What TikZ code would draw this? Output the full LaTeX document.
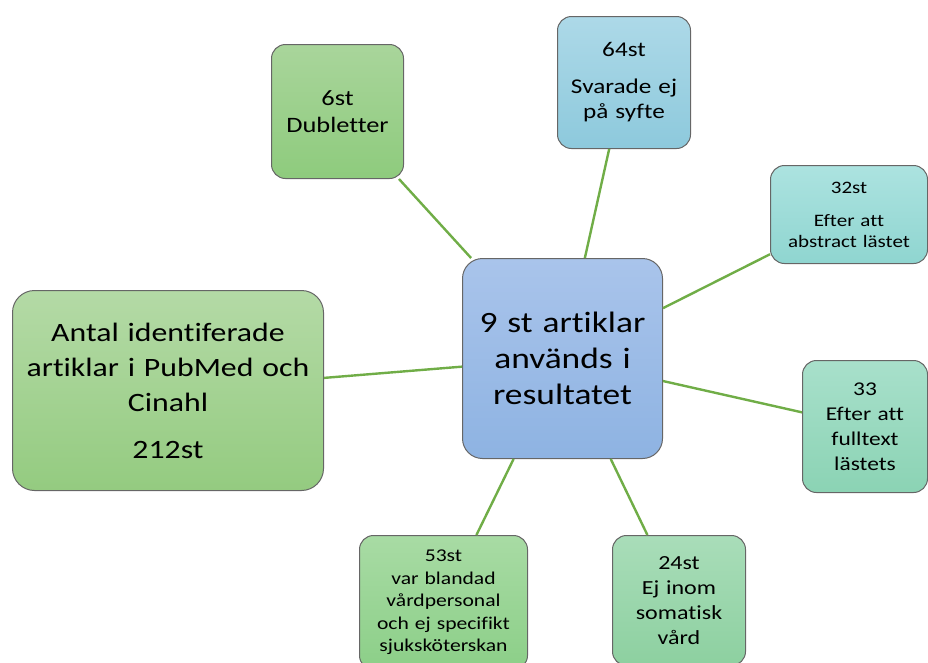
\documentclass[tikz,border=0pt]{standalone}
\usepackage{fontspec}
\setmainfont{Carlito}[FakeStretch=1.2,Ligatures=CommonOff]
\definecolor{linkgreen}{HTML}{70AD47}
\definecolor{boxline}{HTML}{666666}
\begin{document}
\begin{tikzpicture}[x=1pt,y=-1pt,line cap=butt,line join=miter]
            \tikzset{box/.style={draw=boxline,line width=1pt,rounded corners=14pt,
                anchor=north west,align=center,inner sep=0pt,shading=axis},
                link/.style={draw=linkgreen,line width=2.4pt}}
            \useasboundingbox (0,0) rectangle (928,662);
            % mittnoden
            \node[box,rounded corners=20pt,top color={rgb,255:red,169;green,196;blue,235},
                bottom color={rgb,255:red,142;green,179;blue,226},
                text width=200pt,minimum height=200pt,
                font=\fontsize{29.5}{36}\selectfont] (cent) at (462,258)
                {9 st artiklar\\används i\\resultatet};
            \node[box,rounded corners=22pt,top color={rgb,255:red,180;green,218;blue,166},
                bottom color={rgb,255:red,148;green,203;blue,128},
                text width=311pt,minimum height=200pt,
                font=\fontsize{26.5}{35}\selectfont] (ident) at (12,290)
                {Antal identiferade\\artiklar i PubMed och\\Cinahl\\[12pt]212st};
            \node[box,top color={rgb,255:red,169;green,213;blue,155},
                bottom color={rgb,255:red,142;green,203;blue,125},
                text width=132pt,minimum height=134pt,
                font=\fontsize{22}{27}\selectfont] (dubl) at (271,44)
                {6st\\Dubletter};
            \node[box,top color={rgb,255:red,173;green,217;blue,232},
                bottom color={rgb,255:red,141;green,201;blue,220},
                text width=133pt,minimum height=132pt,
                font=\fontsize{21}{25}\selectfont] (syfte) at (557,16)
                {64st\\[12pt]Svarade ej\\på syfte};
            \node[box,top color={rgb,255:red,172;green,227;blue,224},
                bottom color={rgb,255:red,143;green,213;blue,208},
                text width=157pt,minimum height=98pt,
                font=\fontsize{17.5}{21}\selectfont] (abstr) at (770,165)
                {32st\\[12pt]Efter att\\abstract lästet};
            \node[box,top color={rgb,255:red,168;green,224;blue,203},
                bottom color={rgb,255:red,139;green,211;blue,180},
                text width=125pt,minimum height=132pt,
                font=\fontsize{19.5}{25}\selectfont] (fullt) at (802,360)
                {33\\Efter att\\fulltext\\lästets};
            \node[box,top color={rgb,255:red,169;green,221;blue,185},
                bottom color={rgb,255:red,141;green,208;blue,160},
                text width=133pt,minimum height=130pt,
                font=\fontsize{20}{25}\selectfont] (somat) at (612,535)
                {24st\\Ej inom\\somatisk\\vård};
            \node[box,top color={rgb,255:red,168;green,219;blue,164},
                bottom color={rgb,255:red,140;green,207;blue,136},
                text width=168pt,minimum height=134pt,
                font=\fontsize{18}{22.5}\selectfont] (bland) at (359,535)
                {53st\\var blandad\\vårdpersonal\\och ej specifikt\\sjuksköterskan};
            % kopplingar
            \foreach \n in {ident,dubl,syfte,abstr,fullt,somat,bland}
                \draw[link] (\n) -- (cent);
    \end{tikzpicture}
\end{document}
